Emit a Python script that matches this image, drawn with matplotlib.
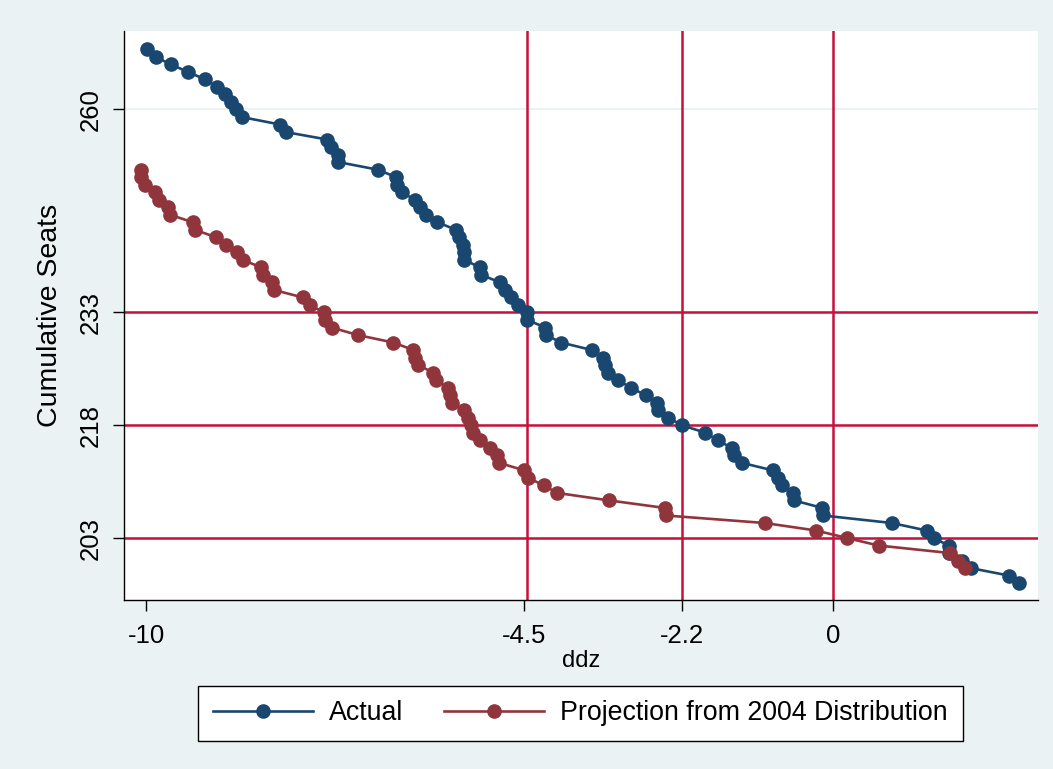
import matplotlib
matplotlib.use("Agg")
import matplotlib.pyplot as plt
import numpy as np

plt.rcParams['font.family'] = ['Liberation Sans', 'DejaVu Sans']

# cumulative seats (one point per seat) against ddz
actual_seats = list(range(268, 196, -1))
actual_ddz = [
    -9.98, -9.86, -9.64, -9.39, -9.14, -8.97, -8.85, -8.76, -8.69, -8.61,
    -8.05, -7.97, -7.36, -7.31, -7.21, -7.20, -6.63, -6.36, -6.35, -6.28,
    -6.09, -6.02, -5.92, -5.76, -5.49, -5.44, -5.39, -5.38, -5.37, -5.14,
    -5.12, -4.85, -4.77, -4.69, -4.59, -4.46, -4.45, -4.19, -4.18, -3.96,
    -3.51, -3.35, -3.32, -3.28, -3.13, -2.95, -2.73, -2.57, -2.55, -2.40,
    -2.20, -1.86, -1.68, -1.48, -1.44, -1.33, -0.88, -0.80, -0.75, -0.58,
    -0.57, -0.16, -0.15, 0.85, 1.36, 1.46, 1.68, 1.69, 1.87, 2.00,
    2.56, 2.71,
]

proj_seats = list(range(252, 198, -1))
proj_ddz = [
    -10.08, -10.08, -10.02, -9.87, -9.81, -9.68, -9.65, -9.32, -9.29, -8.98,
    -8.83, -8.67, -8.59, -8.33, -8.30, -8.17, -8.14, -7.72, -7.62, -7.41,
    -7.39, -7.30, -6.92, -6.40, -6.11, -6.08, -6.04, -5.82, -5.78, -5.61,
    -5.57, -5.55, -5.38, -5.32, -5.27, -5.24, -5.14, -4.99, -4.89, -4.86,
    -4.50, -4.44, -4.21, -4.02, -3.26, -2.45, -2.44, -1.00, -0.25, 0.20,
    0.66, 1.70, 1.82, 1.92,
]

x_ticks = [-10, -4.5, -2.2, 0]
x_tick_labels = ['-10', '-4.5', '-2.2', '0']
x_lines = [-4.45, -2.2, 0]
y_ticks = [203, 218, 233, 260]
y_lines = [233, 218, 203]

bg = '#EAF2F3'
navy = '#1A476F'
maroon = '#90353B'
refred = '#C8103C'

fig = plt.figure(figsize=(10.53, 7.69), dpi=100, facecolor=bg)
ax = fig.add_axes([0.1178, 0.2198, 0.868, 0.7395])
ax.set_facecolor('white')

for y in y_ticks:
    ax.axhline(y, color=bg, lw=1.5, zorder=0)
for v in x_lines:
    ax.axvline(v, color=refred, lw=1.8, zorder=1)
for v in y_lines:
    ax.axhline(v, color=refred, lw=1.8, zorder=1)

ax.plot(actual_ddz, actual_seats, '-o', color=navy, lw=1.9, ms=9.5,
        label='Actual', zorder=3)
ax.plot(proj_ddz, proj_seats, '-o', color=maroon, lw=1.9, ms=9.5,
        label='Projection from 2004 Distribution', zorder=3)

ax.set_xlim(-10.32, 2.98)
ax.set_ylim(194.76, 270.4)
ax.set_xticks(x_ticks)
ax.set_xticklabels(x_tick_labels)
ax.set_yticks(y_ticks)
ax.set_yticklabels([str(y) for y in y_ticks], rotation=90, va='center')
ax.tick_params(axis='both', labelsize=18.5, length=8, width=1, color='black')
ax.tick_params(axis='x', pad=9)
ax.tick_params(axis='y', pad=7)

for s in ['top', 'right']:
    ax.spines[s].set_visible(False)
for s in ['left', 'bottom']:
    ax.spines[s].set_color('black')
    ax.spines[s].set_linewidth(1)

ax.set_xlabel('ddz', fontsize=17, labelpad=2)
ax.set_ylabel('Cumulative Seats', fontsize=20.5, labelpad=12)

leg = fig.legend(loc='center', bbox_to_anchor=(0.551, 0.0722), ncol=2,
                 fontsize=19.3, frameon=True, fancybox=False, edgecolor='black',
                 facecolor='white', framealpha=1, numpoints=1,
                 handlelength=3.75, handletextpad=0.6, columnspacing=1.5,
                 borderpad=0.55, borderaxespad=0)
leg.get_frame().set_linewidth(1)

fig.savefig('out.png', dpi=100, facecolor=bg)
